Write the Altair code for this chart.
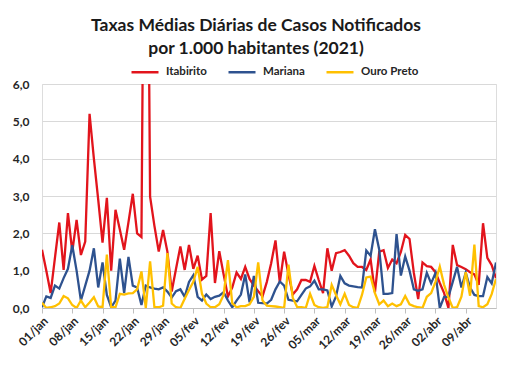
import altair as alt
import pandas as pd

# ---- data ----
inicio = "2021-01-01"
meses = ["jan", "fev", "mar", "abr"]
series = ["Itabirito", "Mariana", "Ouro Preto"]
cores = ["#E2141C", "#2E528F", "#FFC000"]

itabirito = [
    1.56, 1.0, 0.4, 1.35, 2.29, 1.02, 2.54, 1.51, 2.36, 1.42,
    1.78, 5.2, 4.0, 2.9, 1.75, 2.95, 1.0, 2.63, 2.1, 1.56,
    2.3, 3.06, 2.0, 1.9, 18.0, 2.98, 2.2, 1.51, 2.09, 1.51,
    0.44, 1.05, 1.65, 1.02, 1.69, 1.05, 1.4, 0.76, 0.86, 2.54,
    0.67, 1.52, 0.9, 0.31, 0.55, 0.95, 0.78, 1.1, 0.78, 0.6,
    0.45, 0.31, 0.7, 1.2, 1.81, 0.68, 1.51, 0.9, 0.36, 0.5,
    0.75, 0.75, 0.7, 1.13, 0.75, 0.4, 1.6, 1.0, 1.47, 1.5,
    1.55, 1.4, 1.2, 1.1, 1.1, 1.02, 1.3, 0.42, 1.51, 1.55,
    1.07, 1.3, 1.2, 1.5, 1.96, 1.85, 0.94, 0.24, 1.22, 1.12,
    1.1, 0.96, 0.67, 0.4, 0.0, 1.69, 1.15, 1.1, 1.04, 0.96,
    0.9, 0.62, 2.27, 1.34, 1.15, 0.8,
]
mariana = [
    0.02, 0.31, 0.27, 0.6, 0.52, 0.8, 1.05, 1.68, 1.0, 0.2,
    0.6, 1.0, 1.6, 0.55, 1.22, 0.35, 0.02, 0.2, 1.32, 0.4,
    1.37, 0.6, 0.55, 0.08, 0.6, 0.55, 0.52, 0.5, 0.55, 0.44,
    0.28, 0.45, 0.5, 0.3, 0.7, 0.88, 0.3, 0.2, 0.36, 0.24,
    0.3, 0.33, 0.42, 0.2, 0.02, 0.2, 0.36, 0.9, 0.15, 0.86,
    0.14, 0.13, 0.12, 0.22, 0.5, 0.71, 0.6, 0.22, 0.2, 0.18,
    0.35, 0.52, 0.58, 0.73, 0.5, 0.5, 0.47, 0.04, 0.31, 0.86,
    0.66, 0.6, 0.58, 0.56, 0.55, 1.54, 1.4, 2.11, 1.56, 0.38,
    0.38, 0.4, 1.98, 0.87, 1.38, 1.0, 0.5, 0.46, 0.5, 0.94,
    0.66, 0.94, 0.0, 0.3, 0.3, 0.7, 1.1, 0.55, 0.95, 0.55,
    0.35, 0.32, 0.32, 0.83, 0.66, 1.22,
]
ouro_preto = [
    0.14, 0.0, 0.02, 0.05, 0.12, 0.32, 0.26, 0.08, 0.0, 0.2,
    0.02, 0.15, 0.29, 0.04, 0.02, 1.43, 0.02, 0.02, 0.38, 0.36,
    0.39, 0.4, 0.5, 0.98, 0.0, 1.25, 0.02, 0.02, 0.06, 1.47,
    0.12, 0.02, 0.0, 0.25, 0.48, 0.7, 1.1, 0.38, 0.12, 0.02,
    0.02, 0.1, 0.35, 1.28, 0.13, 0.02, 0.05, 0.05, 0.1, 0.3,
    1.22, 0.2, 0.06, 0.05, 0.04, 0.02, 0.0, 1.16, 0.27, 0.03,
    0.02, 0.0, 0.38, 0.08, 0.02, 0.0, 0.02, 0.62, 0.35, 0.1,
    0.38, 0.08, 0.02, 0.0, 0.35, 0.82, 0.84, 0.4, 0.1, 0.2,
    0.05, 0.12, 0.05, 0.1, 0.32, 0.1, 0.05, 0.02, 0.0, 0.3,
    0.4, 0.7, 1.11, 0.62, 0.28, 0.0, 0.02, 0.3, 0.96, 0.33,
    1.7, 0.05, 0.02, 0.1, 0.37, 0.78,
]
tick_labels = ["01/jan", "08/jan", "15/jan", "22/jan", "29/jan", "05/fev",
               "12/fev", "19/fev", "26/fev", "05/mar", "12/mar", "19/mar",
               "26/mar", "02/abr", "09/abr"]
y_ticks = [0, 1, 2, 3, 4, 5, 6]
titulo = ["Taxas Médias Diárias de Casos Notificados",
          "por 1.000 habitantes (2021)"]

# ---- table ----
datas = pd.date_range(inicio, periods=len(itabirito), freq="D")
dias = [f"{d.day:02d}/{meses[d.month - 1]}" for d in datas]
rows = []
for nome, vals in zip(series, [itabirito, mariana, ouro_preto]):
    for i, (dia, v) in enumerate(zip(dias, vals)):
        rows.append({"dia": dia, "ordem": i, "serie": nome, "taxa": v})
df = pd.DataFrame(rows)

FONT = "Lato"

chart = (
    alt.Chart(df)
    .mark_line(strokeWidth=2.3, clip=True)
    .encode(
        x=alt.X(
            "dia:O",
            sort=dias,
            scale=alt.Scale(type="point", padding=0),
            axis=alt.Axis(
                title=None,
                values=tick_labels,
                labelAngle=-45,
                labelFont=FONT,
                labelFontSize=12,
                labelFontWeight="bold",
                labelColor="#262626",
                labelPadding=2,
                tickSize=5,
                tickColor="#BFBFBF",
                domainColor="#BFBFBF",
                grid=False,
            ),
        ),
        y=alt.Y(
            "taxa:Q",
            scale=alt.Scale(domain=[0, 6], nice=False, zero=True),
            axis=alt.Axis(
                title=None,
                values=y_ticks,
                labelExpr="replace(format(datum.value, '.1f'), '.', ',')",
                labelFont=FONT,
                labelFontSize=12,
                labelFontWeight="bold",
                labelColor="#262626",
                labelPadding=13,
                domain=False,
                ticks=False,
                gridColor="#D9D9D9",
            ),
        ),
        color=alt.Color(
            "serie:N",
            scale=alt.Scale(domain=series, range=cores),
            legend=alt.Legend(
                title=None,
                orient="none",
                direction="horizontal",
                legendX=88,
                legendY=-27,
                symbolType="stroke",
                symbolSize=729,
                symbolStrokeWidth=2.5,
                labelFont=FONT,
                labelFontSize=11.5,
                labelFontWeight="bold",
                labelColor="#262626",
                labelOffset=6,
                columnPadding=16,
            ),
        ),
        order="ordem:Q",
    )
    .properties(
        width=454,
        height=224,
        padding={"left": 34, "top": 76, "right": 9, "bottom": 51},
        autosize=alt.AutoSizeParams(type="none"),
        title=alt.TitleParams(
            text=titulo,
            font=FONT,
            fontSize=17.5,
            fontWeight="bold",
            color="#1A1A1A",
            anchor="middle",
            dx=-13,
            offset=0,
            lineHeight=23,
        ),
    )
    .configure_view(stroke=None)
    .configure(background="white")
)

chart.save("out.html", embed_options={"renderer": "svg", "actions": False})
